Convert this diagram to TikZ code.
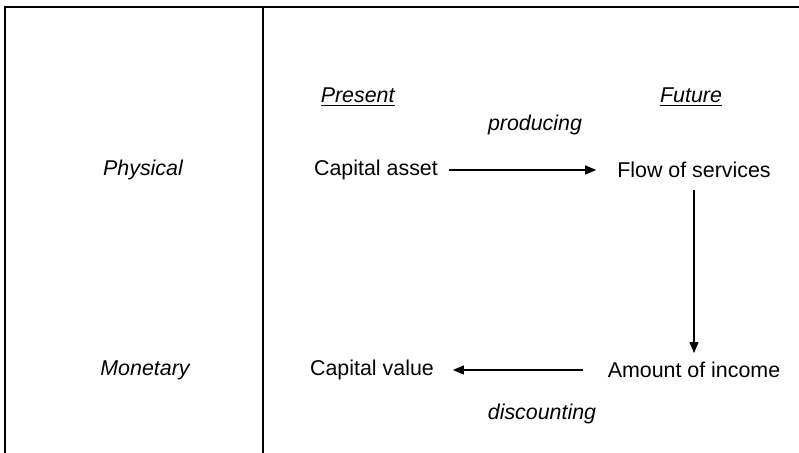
\documentclass[tikz,border=0pt]{standalone}
\usepackage{fontspec}
\setmainfont{Liberation Sans}
\usetikzlibrary{arrows.meta}

\begin{document}
\begin{tikzpicture}[x=0.5pt,y=-0.5pt,
  lbl/.style={font=\fontsize{10.7}{13}\selectfont},
  ilbl/.style={font=\fontsize{10.7}{13}\selectfont\itshape},
  arr/.style={-{Triangle[length=5.5pt,width=4.5pt]},line width=0.6pt}]
\useasboundingbox (0,0) rectangle (799,453);
\draw[line width=0.8pt] (5,453) -- (5,7) -- (799,7);
\draw[line width=0.8pt] (263,7) -- (263,453);
% column heads
\node[lbl] (present) at (358,97) {\underline{\textit{Present}}};
\node[lbl] (future) at (691,97) {\underline{\textit{Future}}};
% row heads
\node[ilbl] (physical) at (143,170) {Physical};
\node[ilbl] (monetary) at (145,370) {Monetary};
% the four quantities
\node[lbl] (asset) at (376,170) {Capital asset};
\node[lbl] (flow) at (694,170) {Flow of services};
\node[lbl] (income) at (694,370) {Amount of income};
\node[lbl] (value) at (372,370) {Capital value};
\node[ilbl] (producing) at (535,125) {producing};
\node[ilbl] (discounting) at (542,414) {discounting};
% arrows
\draw[arr,shorten <=2pt,shorten >=7pt] (asset) -- (flow);
\draw[arr,shorten <=2.5pt,shorten >=1pt] (flow) -- (income);
\draw[arr,shorten <=9pt,shorten >=6pt] (income) -- (value);
\end{tikzpicture}
\end{document}
